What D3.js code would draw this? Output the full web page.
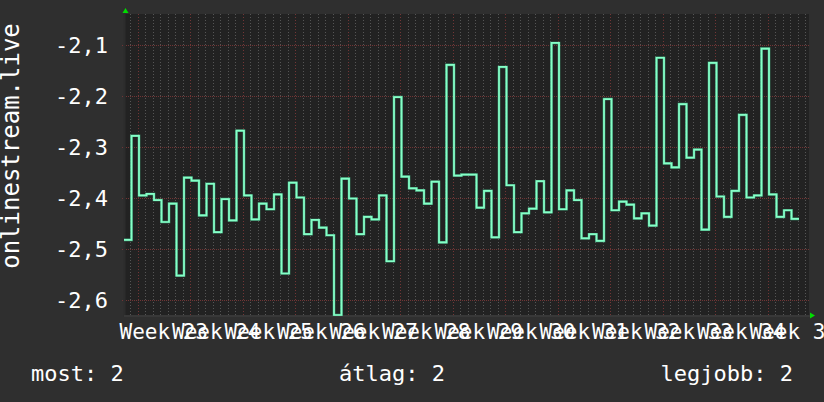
<!DOCTYPE html>
<html>
<head>
<meta charset="utf-8">
<script src="https://cdn.jsdelivr.net/npm/d3@7"></script>
<style>
  html, body { margin: 0; padding: 0; background: #2f2f2f; }
  svg { display: block; }
  text { font-family: "DejaVu Sans Mono", monospace; fill: #ffffff; }
</style>
</head>
<body>
<svg id="chart" width="824" height="402"></svg>
<script>
// ---- data ----
const yTicks = [-2.1, -2.2, -2.3, -2.4, -2.5, -2.6];
const weekLabels = ["Week 23", "Week 24", "Week 25", "Week 26", "Week 27", "Week 28", "Week 29",
                    "Week 30", "Week 31", "Week 32", "Week 33", "Week 34", "Week 35"];
const dailyValues = [
  -2.482, -2.278, -2.395, -2.392, -2.404, -2.447, -2.411, -2.552, -2.360, -2.366,
  -2.434, -2.372, -2.467, -2.402, -2.444, -2.268, -2.395, -2.442, -2.411, -2.422,
  -2.393, -2.548, -2.370, -2.399, -2.471, -2.443, -2.458, -2.473, -2.660, -2.362,
  -2.401, -2.471, -2.437, -2.442, -2.395, -2.524, -2.202, -2.358, -2.381, -2.385,
  -2.411, -2.368, -2.487, -2.139, -2.356, -2.354, -2.354, -2.419, -2.386, -2.477,
  -2.143, -2.375, -2.467, -2.430, -2.421, -2.367, -2.428, -2.096, -2.422, -2.385,
  -2.404, -2.479, -2.471, -2.484, -2.206, -2.424, -2.407, -2.413, -2.440, -2.430,
  -2.454, -2.125, -2.332, -2.340, -2.216, -2.321, -2.305, -2.462, -2.135, -2.397,
  -2.437, -2.386, -2.237, -2.399, -2.395, -2.107, -2.393, -2.437, -2.424, -2.441
];
const yTitle = "onlinestream.live";
const legendItems = ["most: 2", "átlag: 2", "legjobb: 2"];

// ---- layout ----
const W = 824, H = 402;
const plot = { left: 124, right: 809, top: 14, bottom: 315 };
const daysShown = 91.333;
const gridOffset = 0.8;     // first daily grid line (days from left edge)
const majorOffset = 1.8;    // first weekly grid line

const svg = d3.select("#chart");
svg.append("rect").attr("width", W).attr("height", H).attr("fill", "#2f2f2f");

const x = d3.scaleLinear().domain([0, daysShown]).range([plot.left, plot.right]);
const y = d3.scaleLinear().domain([-2.6294, -2.0392]).range([plot.bottom, plot.top]).clamp(true);

const locale = d3.formatLocale({ decimal: ",", thousands: " ", grouping: [3], currency: ["", ""], minus: "-" });
const fmt = locale.format(".1f");

// plot background
svg.append("rect")
  .attr("x", plot.left).attr("y", plot.top)
  .attr("width", plot.right - plot.left).attr("height", plot.bottom - plot.top)
  .attr("fill", "#222222");

// vertical grid
const minorDays = d3.range(gridOffset, daysShown, 1);
const majorDays = d3.range(majorOffset, daysShown, 7);
const g = svg.append("g");
g.selectAll("line.minor").data(minorDays.filter(d => !majorDays.some(m => Math.abs(m - d) < 1e-6)))
  .join("line")
  .attr("x1", d => Math.round(x(d)) + 0.5).attr("x2", d => Math.round(x(d)) + 0.5)
  .attr("y1", plot.top).attr("y2", plot.bottom + 2)
  .attr("stroke", "#555555").attr("stroke-width", 1).attr("stroke-dasharray", "1,2");
g.selectAll("line.major").data(majorDays)
  .join("line")
  .attr("x1", d => Math.round(x(d)) + 0.5).attr("x2", d => Math.round(x(d)) + 0.5)
  .attr("y1", plot.top).attr("y2", plot.bottom + 2)
  .attr("stroke", "#723636").attr("stroke-width", 1).attr("stroke-dasharray", "1,2");

// horizontal grid
g.selectAll("line.h").data(yTicks)
  .join("line")
  .attr("x1", plot.left - 2).attr("x2", plot.right)
  .attr("y1", d => Math.round(y(d)) + 0.5).attr("y2", d => Math.round(y(d)) + 0.5)
  .attr("stroke", "#703535").attr("stroke-width", 1).attr("stroke-dasharray", "1,1");

// axes lines
svg.append("line").attr("x1", plot.left + 0.5).attr("x2", plot.left + 0.5)
  .attr("y1", plot.top - 2).attr("y2", plot.bottom + 2).attr("stroke", "#2c2c2c").attr("stroke-width", 2);
svg.append("line").attr("x1", plot.left).attr("x2", plot.right + 2)
  .attr("y1", plot.bottom + 1).attr("y2", plot.bottom + 1).attr("stroke", "#383838").attr("stroke-width", 2);

// arrows
svg.append("path")
  .attr("d", `M${plot.left + 1.5},${plot.top - 6} L${plot.left - 1.5},${plot.top - 1} L${plot.left + 4.5},${plot.top - 1} Z`)
  .attr("fill", "#00dd00");
svg.append("path")
  .attr("d", `M${plot.right + 6},${plot.bottom + 0.5} L${plot.right + 1},${plot.bottom - 2.5} L${plot.right + 1},${plot.bottom + 3.5} Z`)
  .attr("fill", "#00dd00");

// line
svg.append("clipPath").attr("id", "clip").append("rect")
  .attr("x", plot.left).attr("y", plot.top - 2)
  .attr("width", plot.right - plot.left).attr("height", plot.bottom - plot.top + 3);
const pts = dailyValues.map((v, i) => [i, v]);
pts.push([dailyValues.length, dailyValues[dailyValues.length - 1]]);
const line = d3.line().x(d => x(d[0])).y(d => y(d[1])).curve(d3.curveStepAfter);
svg.append("path").datum(pts)
  .attr("clip-path", "url(#clip)")
  .attr("d", line).attr("fill", "none")
  .attr("stroke", "#3f9c74").attr("stroke-width", 2.6).attr("stroke-linejoin", "miter");
svg.append("path").datum(pts)
  .attr("clip-path", "url(#clip)")
  .attr("d", line).attr("fill", "none")
  .attr("stroke", "#86ffc8").attr("stroke-width", 1.7).attr("stroke-linejoin", "miter");

// y tick labels
svg.selectAll("text.ytick").data(yTicks).join("text")
  .attr("x", 108).attr("y", d => y(d) + 8)
  .attr("text-anchor", "end").attr("font-size", 22)
  .text(d => fmt(d));

// x labels (centered mid-week)
svg.selectAll("text.xlab").data(weekLabels).join("text")
  .attr("x", (d, i) => x(majorOffset + 3.5 + 7 * i))
  .attr("y", 339)
  .attr("text-anchor", "middle").attr("font-size", 21)
  .text(d => d);

// y title
svg.append("text")
  .attr("transform", "translate(19,146) rotate(-90)")
  .attr("text-anchor", "middle").attr("font-size", 24)
  .text(yTitle);

// legend
svg.append("text").attr("x", 31).attr("y", 381).attr("font-size", 22).text(legendItems[0]);
svg.append("text").attr("x", 339).attr("y", 381).attr("font-size", 22).text(legendItems[1]);
svg.append("text").attr("x", 793).attr("y", 381).attr("text-anchor", "end").attr("font-size", 22).text(legendItems[2]);
</script>
</body>
</html>
